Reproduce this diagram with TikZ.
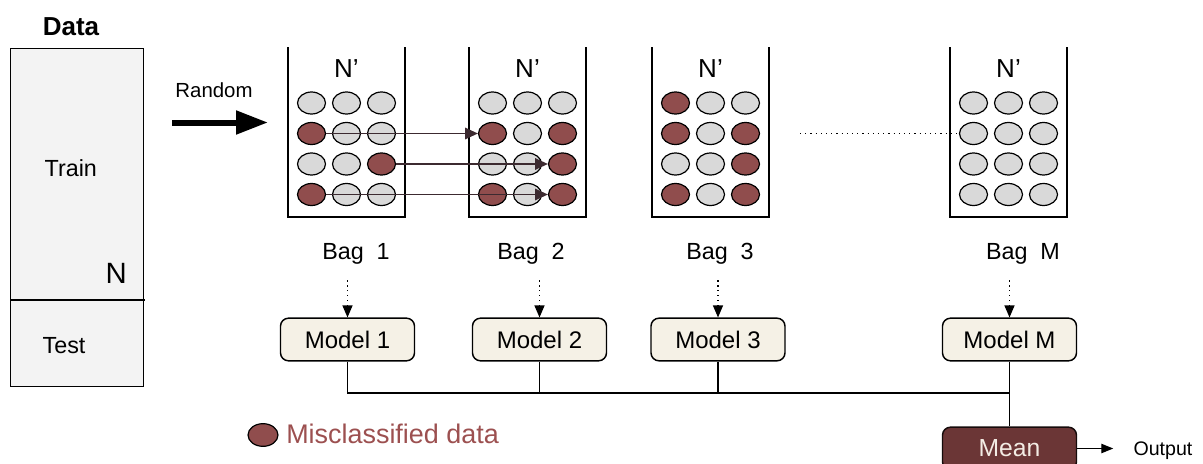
\documentclass[tikz,border=0pt]{standalone}
\usepackage{fontspec}
\setmainfont{Liberation Sans}
\usetikzlibrary{shapes.geometric,arrows.meta}
\definecolor{mred}{HTML}{904D4D}
\definecolor{mgray}{HTML}{D9D9D9}
\definecolor{legtext}{HTML}{9C5050}
\definecolor{meanfill}{HTML}{6B3636}
\definecolor{meantext}{HTML}{F3ECE4}
\definecolor{modelfill}{HTML}{F5F1E6}
\definecolor{datafill}{HTML}{F3F3F3}
\definecolor{arr}{HTML}{3C2A30}
\newcommand\mybagdots[3]{%
  \foreach \s [count=\k from 0] in {#3} {%
    \pgfmathtruncatemacro\row{int(\k/3)+1}%
    \pgfmathtruncatemacro\col{mod(\k,3)+1}%
    \node[dot\s] (b#1-\row-\col) at ({#2+35*(\col-2)}, {103+30.5*(\row-1)}) {};
  }%
}
\begin{document}
\begin{tikzpicture}[x=0.75pt,y=-0.75pt,
  dot/.style={ellipse, draw=black, line width=0.9pt, inner sep=0pt, minimum width=21pt, minimum height=16.5pt},
  dotg/.style={dot, fill=mgray},
  dotr/.style={dot, fill=mred},
  bagline/.style={line width=1pt},
  txt/.style={inner sep=0pt, text=black},
  nprime/.style={txt, font=\fontsize{19.5}{22}\selectfont, anchor=base},
  baglabel/.style={txt, font=\fontsize{17.5}{20}\selectfont, anchor=base},
  model/.style={draw=black, line width=1.1pt, fill=modelfill, rounded corners=6pt, minimum width=100.5pt, minimum height=32pt, inner sep=0pt, font=\fontsize{18}{21}\selectfont},
  meanbox/.style={draw=black!80!meanfill, line width=1.1pt, fill=meanfill, rounded corners=6pt, minimum width=100.5pt, minimum height=32pt, inner sep=0pt, text=meantext, font=\fontsize{18.5}{21}\selectfont},
  bus/.style={line width=1pt},
  bagarrow/.style={draw=arr, line width=1.2pt, -{Triangle[length=9.5pt,width=8.5pt]}},
  dotarrow/.style={line width=0.9pt, dash pattern=on 0.9pt off 2.8pt, -{Triangle[length=9pt,width=7.5pt]}},
  dotline/.style={line width=0.9pt, dash pattern=on 0.9pt off 3pt},
  outarrow/.style={line width=1pt, -{Triangle[length=9pt,width=7pt]}}
]
\useasboundingbox (0,0) rectangle (1203,464);

% Data column
\node[draw=black, fill=datafill, line width=1pt, minimum width=99.75pt, minimum height=253.5pt, anchor=north west, inner sep=0pt] (data) at (10,48) {};
\coordinate (divR) at (145,300);
\draw[line width=1pt] (data.west |- divR) -- (divR);
\node[txt, font=\bfseries\fontsize{19.5}{22}\selectfont, anchor=base] (datat) at (71,35) {Data};
\node[txt, font=\fontsize{17.5}{20}\selectfont, anchor=base] (train) at (70.8,176.7) {Train};
\node[txt, font=\fontsize{22}{25}\selectfont, anchor=base] (nn) at (116.3,283.3) {N};
\node[txt, font=\fontsize{17.5}{20}\selectfont, anchor=base] (test) at (64,353.3) {Test};

% Random arrow
\node[txt, font=\fontsize{15.3}{18}\selectfont, anchor=base] (random) at (214,97.3) {Random};
\coordinate (r0) at (172,122.5);
\coordinate (r1) at (268,122.5);
\draw[line width=4.5pt, -{Triangle[length=24pt,width=17pt]}] (r0) -- (r1);

% Bags
\draw[bagline] (288,47) |- (405,217) -- (405,47);
\draw[bagline] (469,47) |- (586,217) -- (586,47);
\draw[bagline] (652,47) |- (769,217) -- (769,47);
\draw[bagline] (950,47) |- (1067,217) -- (1067,47);

\node[nprime] (np1) at (346.5,77) {N’};
\node[nprime] (np2) at (527.5,77) {N’};
\node[nprime] (np3) at (710.5,77) {N’};
\node[nprime] (npM) at (1008.5,77) {N’};

\mybagdots{1}{346.5}{g,g,g,r,g,g,g,g,r,r,g,g}
\mybagdots{2}{527.5}{g,g,g,r,g,r,g,g,r,r,g,r}
\mybagdots{3}{710.5}{r,g,g,r,g,r,g,g,r,r,g,r}
\mybagdots{M}{1008.5}{g,g,g,g,g,g,g,g,g,g,g,g}

\draw[bagarrow] (b1-2-1.east) -- (b2-2-1.west);
\draw[bagarrow] (b1-3-3.east) -- (b2-3-3.west);
\draw[bagarrow] (b1-4-1.east) -- (b2-4-3.west);

\coordinate (dstart) at (800,133.5);
\draw[dotline] (dstart) -- (bM-2-1.west);

% Bag labels
\node[baglabel] (bl1) at (356,259.3) {Bag\hspace{0.55em}1};
\node[baglabel] (bl2) at (531,259.3) {Bag\hspace{0.55em}2};
\node[baglabel] (bl3) at (720,259.3) {Bag\hspace{0.55em}3};
\node[baglabel] (blM) at (1023,259.3) {Bag\hspace{0.55em}M};

% Models
\node[model] (m1) at (347.5,339.5) {Model 1};
\node[model] (m2) at (539.5,339.5) {Model 2};
\node[model] (m3) at (718,339.5) {Model 3};
\node[model] (mM) at (1009.5,339.5) {Model M};

\draw[dotarrow, shorten <=12pt] (m1.north |- bl1.south) -- (m1.north);
\draw[dotarrow, shorten <=12pt] (m2.north |- bl2.south) -- (m2.north);
\draw[dotarrow, shorten <=12pt] (m3.north |- bl3.south) -- (m3.north);
\draw[dotarrow, shorten <=12pt] (mM.north |- blM.south) -- (mM.north);

% Mean
\node[meanbox] (mean) at (1009.5,448.5) {Mean};
\coordinate (bus) at (0,393);
\draw[bus] (m1.south) |- (mM.south |- bus);
\draw[bus] (m2.south) -- (m2.south |- bus);
\draw[bus] (m3.south) -- (m3.south |- bus);
\draw[bus] (mM.south) -- (mean.north);

\node[txt, font=\fontsize{14.7}{17}\selectfont, anchor=base west] (out) at (1133.3,455) {Output};
\draw[outarrow, shorten >=15pt] (mean.east) -- (mean.east -| out.west);

% Legend
\node[dotr, minimum width=22.5pt, minimum height=17pt] (leg) at (263,435) {};
\node[txt, text=legtext, font=\fontsize{20.2}{24}\selectfont, anchor=base west] (legtxt) at (286,443.3) {Misclassified data};
\end{tikzpicture}
\end{document}
